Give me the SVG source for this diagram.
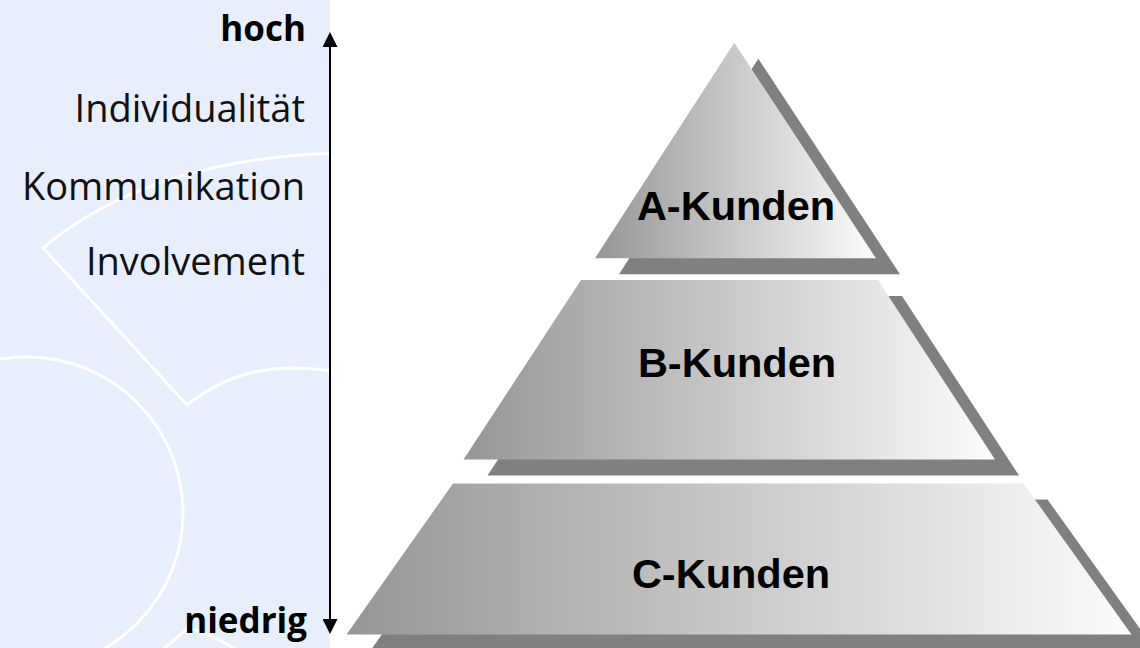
<svg xmlns="http://www.w3.org/2000/svg" width="1140" height="648" viewBox="0 0 1140 648">
  <style>
    .deco { fill: none; stroke: #ffffff; stroke-width: 3; }
    .shadow { fill: #808080; }
    .face { fill: url(#grey); }
    .label { font-family: "Liberation Sans", Arial, sans-serif; font-weight: bold; font-size: 41.5px; fill: #000; text-anchor: middle; }
    .axis { font-family: "Open Sans", "Noto Sans", sans-serif; font-size: 38px; font-weight: 400; fill: #111; text-anchor: end; }
    .axis-b { font-family: "Open Sans", "Noto Sans", sans-serif; font-size: 35px; font-weight: bold; fill: #000; text-anchor: end; }
    .axisline { stroke: #000; stroke-width: 2; fill: none; }
  </style>
  <defs>
    <linearGradient id="grey" x1="0" y1="0" x2="1" y2="0">
      <stop offset="0" stop-color="#969696"/>
      <stop offset="1" stop-color="#fcfcfc"/>
    </linearGradient>
    <clipPath id="panelClip">
      <rect x="0" y="0" width="330" height="648"/>
    </clipPath>
    <marker id="arrow" viewBox="0 0 15 15" refX="0" refY="7.5" markerWidth="15" markerHeight="15" markerUnits="userSpaceOnUse" orient="auto-start-reverse">
      <path d="M0,0 L15,7.5 L0,15 z" fill="#000"/>
    </marker>
  </defs>

  <g id="background">
    <rect x="0" y="0" width="1140" height="648" fill="#ffffff"/>
    <rect x="0" y="0" width="330" height="648" fill="#E8EEFC"/>
    <g clip-path="url(#panelClip)">
      <path class="deco" d="M340,153 Q150,158 43,248 L187,405 C225,375 270,360 340,372"/>
      <circle class="deco" cx="27" cy="513" r="156"/>
      <path class="deco" d="M160,652 L188,628 Q208,632 240,652"/>
    </g>
  </g>

  <g id="axis-labels">
    <text class="axis-b" x="306" y="41">hoch</text>
    <text class="axis" x="305" y="122">Individualität</text>
    <text class="axis" x="305" y="200">Kommunikation</text>
    <text class="axis" x="305" y="275">Involvement</text>
    <text class="axis-b" x="307" y="633">niedrig</text>
  </g>

  <g id="connectors">
    <line class="axisline" x1="330" y1="47" x2="330" y2="619" marker-start="url(#arrow)" marker-end="url(#arrow)"/>
  </g>

  <g id="node-c">
    <polygon class="shadow" points="477,499.5 1047.5,499.5 1155.5,650.5 370.5,650.5"/>
    <polygon class="face" points="453,483.5 1023.5,483.5 1131.5,634.5 346.5,634.5"/>
    <text class="label" x="731" y="588">C-Kunden</text>
  </g>

  <g id="node-b">
    <polygon class="shadow" points="605,296 902,296 1019,475.5 487.5,475.5"/>
    <polygon class="face" points="581,280 878,280 995,459.5 463.5,459.5"/>
    <text class="label" x="737" y="377">B-Kunden</text>
  </g>

  <g id="node-a">
    <polygon class="shadow" points="758.3,58.7 900,274.3 619,274.3"/>
    <polygon class="face" points="734.3,42.7 876,258.3 595,258.3"/>
    <text class="label" x="736" y="220">A-Kunden</text>
  </g>
</svg>
